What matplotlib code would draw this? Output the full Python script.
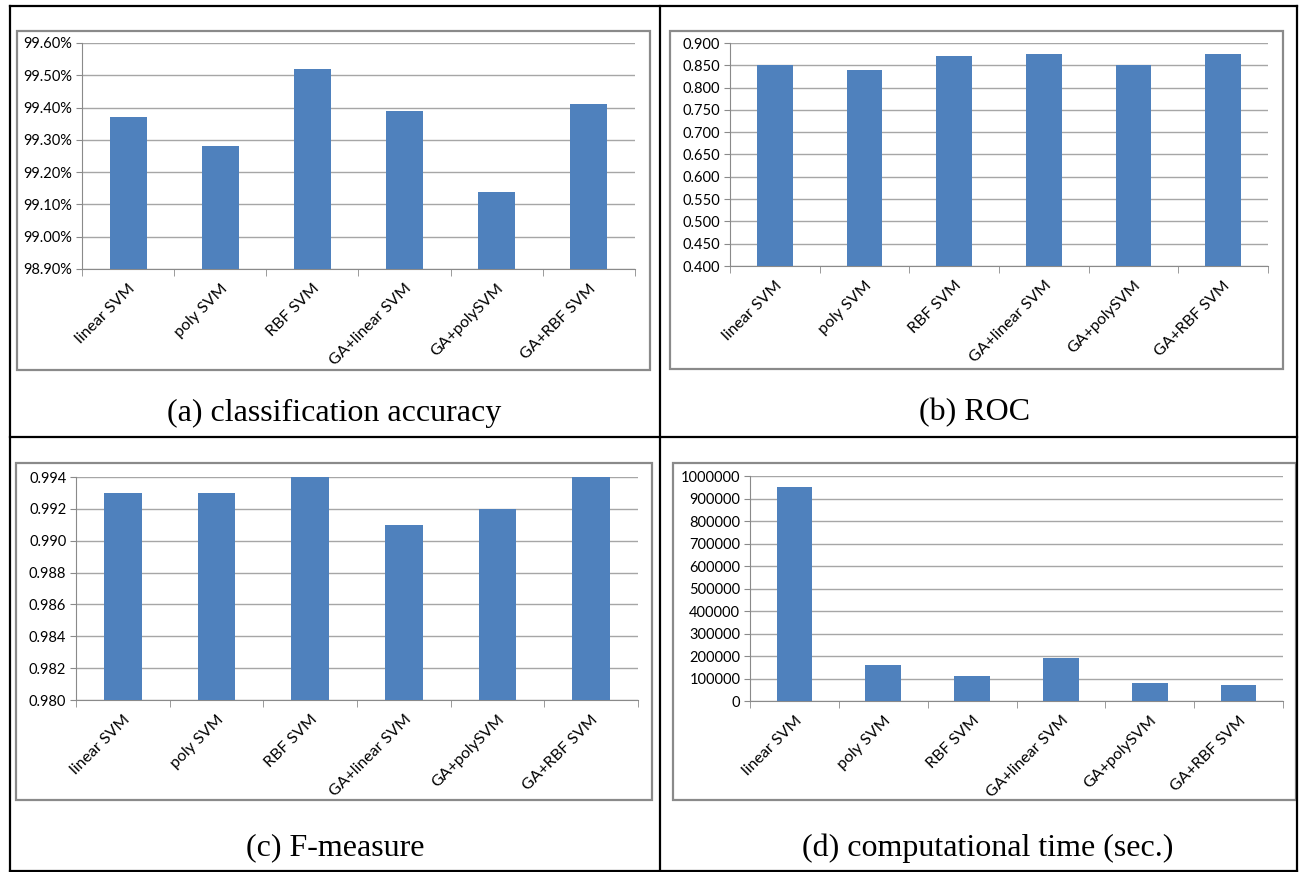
import matplotlib
matplotlib.use("Agg")
import matplotlib.pyplot as plt
from matplotlib.patches import Rectangle
from matplotlib.lines import Line2D
from matplotlib.ticker import FuncFormatter, FixedLocator

methods = ['linear SVM', 'poly SVM', 'RBF SVM', 'GA+linear SVM', 'GA+polySVM', 'GA+RBF SVM']
accuracy = [99.37, 99.28, 99.52, 99.39, 99.14, 99.41]
roc = [0.850, 0.840, 0.870, 0.876, 0.850, 0.875]
f_measure = [0.993, 0.993, 0.994, 0.991, 0.992, 0.994]
comp_time = [950000, 160000, 110000, 190000, 80000, 70000]

W, H = 1301, 872
fig = plt.figure(figsize=(W / 100, H / 100), dpi=100)

def fx(x):
    return x / W

def fy(y):
    return 1 - y / H

# outer table lines
for (x0, y0, x1, y1) in [(10, 6, 1297, 6), (10, 871, 1297, 871), (10, 6, 10, 871),
                         (1297, 6, 1297, 871), (660, 6, 660, 871), (10, 437, 1297, 437)]:
    fig.add_artist(Line2D([fx(x0), fx(x1)], [fy(y0), fy(y1)], color='black', lw=1.6))

bar_color = '#4F81BD'
grid_color = '#a6a6a6'


def panel(box, ax_px, values, yticks, fmt, caption, cap_x, cap_y):
    bx0, by0, bx1, by1 = box
    fig.add_artist(Rectangle((fx(bx0), fy(by1)), fx(bx1 - bx0), (by1 - by0) / H,
                             fill=False, edgecolor='#8a8a8a', lw=1.6))
    l, t, r, b = ax_px
    ax = fig.add_axes([fx(l), fy(b), fx(r - l), (b - t) / H])
    ax.bar(range(len(values)), values, width=0.4, color=bar_color, zorder=3)
    ax.set_xlim(-0.5, len(values) - 0.5)
    ax.set_ylim(yticks[0], yticks[-1])
    ax.set_yticks(yticks)
    ax.yaxis.set_major_formatter(FuncFormatter(lambda v, p: fmt(v)))
    ax.grid(axis='y', color=grid_color, lw=1.0, zorder=0)
    ax.set_xticks(range(len(values)))
    ax.set_xticklabels(methods, rotation=45, ha='right', rotation_mode='anchor',
                       fontsize=11.5, family='Lato')
    ax.tick_params(axis='x', length=0, pad=9)
    ax.xaxis.set_minor_locator(FixedLocator([i - 0.5 for i in range(len(values) + 1)]))
    ax.tick_params(axis='x', which='minor', length=5, color='#8a8a8a', direction='out')
    ax.tick_params(axis='y', length=4, color='#8a8a8a', labelsize=10.5, pad=3)
    for lab in ax.get_yticklabels():
        lab.set_family('Lato')
    for s in ['top', 'right']:
        ax.spines[s].set_visible(False)
    for s in ['left', 'bottom']:
        ax.spines[s].set_color('#8a8a8a')
    fig.text(fx(cap_x), fy(cap_y), caption, ha='center', va='center',
             fontsize=23, family='Liberation Serif')
    return ax


panel((17, 31, 650, 370), (82, 43, 635, 269), accuracy,
      [98.9, 99.0, 99.1, 99.2, 99.3, 99.4, 99.5, 99.6],
      lambda v: '%.2f%%' % v, '(a) classification accuracy', 334, 413)
panel((670, 31, 1283, 369), (730, 43, 1268, 266), roc,
      [0.4, 0.45, 0.5, 0.55, 0.6, 0.65, 0.7, 0.75, 0.8, 0.85, 0.9],
      lambda v: '%.3f' % v, '(b) ROC', 975, 413)
panel((16, 463, 652, 800), (76, 477, 638, 700), f_measure,
      [0.980, 0.982, 0.984, 0.986, 0.988, 0.990, 0.992, 0.994],
      lambda v: '%.3f' % v, '(c) F-measure', 335, 848)
panel((673, 463, 1296, 800), (750, 476, 1283, 701), comp_time,
      list(range(0, 1000001, 100000)),
      lambda v: '%d' % v, '(d) computational time (sec.)', 988, 848)

fig.savefig('out.png', dpi=100)
